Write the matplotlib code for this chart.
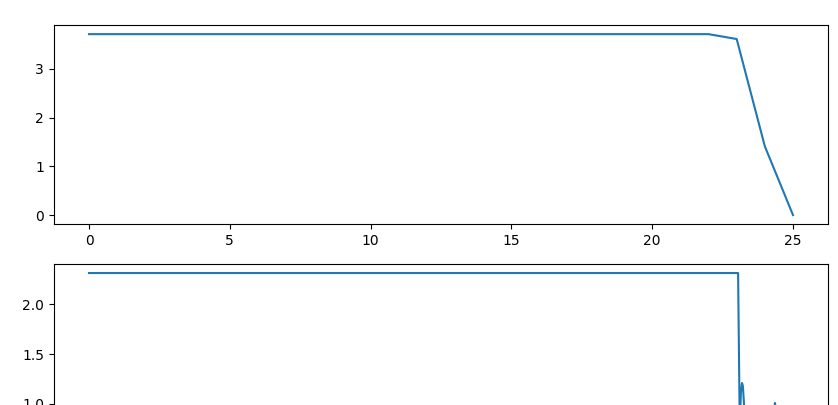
import matplotlib
matplotlib.use("Agg")
import matplotlib.pyplot as plt

# top panel: one value per step
steps = list(range(26))
top_vals = [3.71] * 23 + [3.61, 1.41, 0.0]

# bottom panel: finer sampled signal
fine_x = [0.0, 23.05, 23.11, 23.15, 23.19, 23.22, 23.26, 23.3, 23.4, 23.6,
          23.8, 24.0, 24.2, 24.3, 24.36, 24.42, 24.6, 24.8, 25.0]
fine_y = [2.31, 2.31, 0.75, 1.12, 1.21, 1.18, 1.0, 0.8, 0.6, 0.52,
          0.58, 0.55, 0.7, 0.92, 1.01, 0.9, 0.65, 0.55, 0.5]

W, H = 838, 405
fig = plt.figure(figsize=(W / 100, H / 100), dpi=100)

left = 53.8 / W
width = (828.2 - 53.8) / W
ax1 = fig.add_axes([left, (H - 224.1) / H, width, 199 / H])
ax2 = fig.add_axes([left, (H - 463) / H, width, 199 / H])

ax1.plot(steps, top_vals)
ax2.plot(fine_x, fine_y)

fig.savefig("out.png", dpi=100)
